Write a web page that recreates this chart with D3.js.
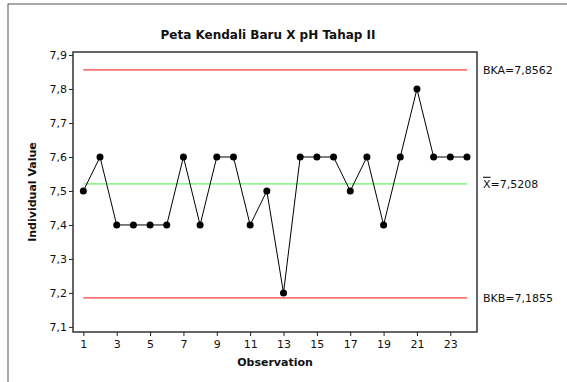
<!DOCTYPE html>
<html>
<head>
<meta charset="utf-8">
<script src="https://cdn.jsdelivr.net/npm/d3@7"></script>
<style>
  body { margin: 0; background: #fff; }
  text { font-family: "DejaVu Sans", sans-serif; fill: #111; }
</style>
</head>
<body>
<div id="chart"></div>
<script>
// data
const observations = d3.range(1, 25);
const values = [7.5, 7.6, 7.4, 7.4, 7.4, 7.4, 7.6, 7.4, 7.6, 7.6, 7.4, 7.5,
                7.2, 7.6, 7.6, 7.6, 7.5, 7.6, 7.4, 7.6, 7.8, 7.6, 7.6, 7.6];
const xTicks = [1, 3, 5, 7, 9, 11, 13, 15, 17, 19, 21, 23];
const yTicks = [7.1, 7.2, 7.3, 7.4, 7.5, 7.6, 7.7, 7.8, 7.9];
const limitNames = ['BKA', 'X', 'BKB'];
const limitValues = [7.8562, 7.5208, 7.1855];

const W = 567, H = 382;
const m = { left: 73, right: 477, top: 52, bottom: 332 };
const fmt = v => d3.format('.1f')(v).replace('.', ',');

const svg = d3.select('#chart').append('svg')
  .attr('width', W).attr('height', H);

// outer frame
svg.append('rect')
  .attr('x', 8).attr('y', 4).attr('width', W).attr('height', H)
  .attr('fill', 'none').attr('stroke', '#555').attr('stroke-width', 1);

const x = d3.scaleLinear().domain([0.38, 24.6]).range([m.left, m.right]);
const y = d3.scaleLinear().domain([7.085, 7.909]).range([m.bottom, m.top]);

// plot box
svg.append('rect')
  .attr('x', m.left).attr('y', m.top)
  .attr('width', m.right - m.left).attr('height', m.bottom - m.top)
  .attr('fill', 'none').attr('stroke', '#333').attr('stroke-width', 1.5);

// axes
const yAxis = d3.axisLeft(y).tickValues(yTicks).tickFormat(fmt).tickSize(4).tickPadding(2);
const gy = svg.append('g').attr('transform', `translate(${m.left},0)`).call(yAxis);
const xAxis = d3.axisBottom(x).tickValues(xTicks).tickSize(4).tickPadding(4);
const gx = svg.append('g').attr('transform', `translate(0,${m.bottom})`).call(xAxis);
[gx, gy].forEach(g => {
  g.select('.domain').remove();
  g.selectAll('line').attr('stroke', '#222');
  g.selectAll('text').style('font-family', '"DejaVu Sans", sans-serif')
    .style('font-size', '11px').attr('fill', '#111');
});

// limit lines
const limitColors = ['#ff3b3b', '#66f266', '#ff3b3b'];
limitValues.forEach((v, i) => {
  svg.append('line')
    .attr('x1', x(1)).attr('x2', x(24))
    .attr('y1', y(v)).attr('y2', y(v))
    .attr('stroke', limitColors[i]).attr('stroke-width', 1.3);
  const t = svg.append('text')
    .attr('x', 483).attr('y', y(v)).attr('dy', '0.35em')
    .style('font-size', '11px');
  if (limitNames[i] === 'X') {
    t.append('tspan').style('text-decoration', 'overline').text('X');
    t.append('tspan').text('=' + String(v).replace('.', ','));
  } else {
    t.text(limitNames[i] + '=' + String(v).replace('.', ','));
  }
});

// series
const line = d3.line().x((d, i) => x(observations[i])).y(d => y(d));
svg.append('path').datum(values)
  .attr('d', line).attr('fill', 'none').attr('stroke', '#000').attr('stroke-width', 1);
svg.selectAll('circle.pt').data(values).join('circle')
  .attr('class', 'pt')
  .attr('cx', (d, i) => x(observations[i])).attr('cy', d => y(d))
  .attr('r', 3.5).attr('fill', '#000');

// titles
svg.append('text')
  .attr('x', 268).attr('y', 39).attr('text-anchor', 'middle')
  .style('font-size', '12px').style('font-weight', 'bold')
  .text('Peta Kendali Baru X pH Tahap II');
svg.append('text')
  .attr('x', (m.left + m.right) / 2).attr('y', 366).attr('text-anchor', 'middle')
  .style('font-size', '11px').style('font-weight', 'bold')
  .text('Observation');
svg.append('text')
  .attr('transform', `translate(36,${(m.top + m.bottom) / 2}) rotate(-90)`)
  .attr('text-anchor', 'middle')
  .style('font-size', '11px').style('font-weight', 'bold')
  .text('Individual Value');
</script>
</body>
</html>
